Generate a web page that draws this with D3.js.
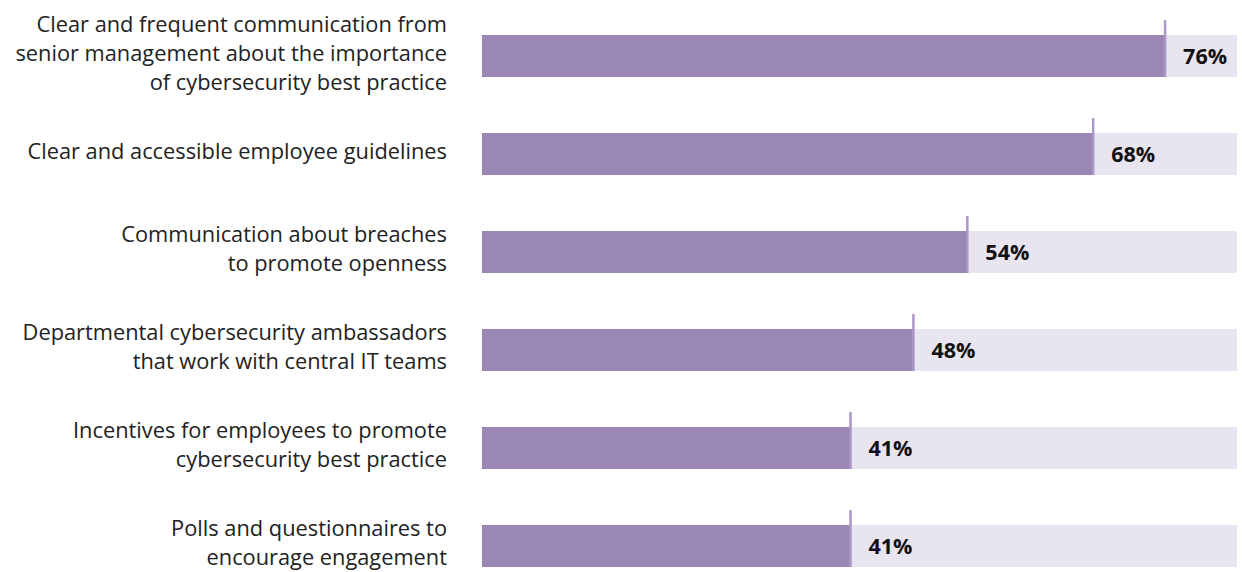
<!DOCTYPE html>
<html>
<head>
<meta charset="utf-8">
<script src="https://cdn.jsdelivr.net/npm/d3@7"></script>
<style>
  html, body { margin: 0; padding: 0; background: #fff; }
  svg { display: block; }
</style>
</head>
<body>
<svg id="chart" width="1242" height="572"></svg>
<script>
// Survey responses: measures that support cybersecurity culture
const categories = [
  ["Clear and frequent communication from", "senior management about the importance", "of cybersecurity best practice"],
  ["Clear and accessible employee guidelines"],
  ["Communication about breaches", "to promote openness"],
  ["Departmental cybersecurity ambassadors", "that work with central IT teams"],
  ["Incentives for employees to promote", "cybersecurity best practice"],
  ["Polls and questionnaires to", "encourage engagement"]
];
const values = [76, 68, 54, 48, 41, 41];
const valueLabels = ["76%", "68%", "54%", "48%", "41%", "41%"];
const trackMax = [84];

const svg = d3.select("#chart");
const ids = categories.map((c, i) => i);

const x = d3.scaleLinear().domain([0, trackMax[0]]).range([482, 1237]);
const y = d3.scaleBand().domain(ids).range([35, 567]).paddingInner(0.571).paddingOuter(0);

const barColor = "#9b87b4";
const trackColor = "#e8e4f0";
const markerColor = "#ab98c6";

const rows = svg.selectAll("g.row").data(ids).enter().append("g").attr("class", "row");

// background track
rows.append("rect")
  .attr("x", x(0))
  .attr("y", i => y(i))
  .attr("width", x(trackMax[0]) - x(0))
  .attr("height", y.bandwidth())
  .attr("fill", trackColor);

// value bar
rows.append("rect")
  .attr("x", x(0))
  .attr("y", i => y(i))
  .attr("width", i => x(values[i]) - x(0))
  .attr("height", y.bandwidth())
  .attr("fill", barColor);

// marker line at bar end
rows.append("line")
  .attr("x1", i => x(values[i]))
  .attr("x2", i => x(values[i]))
  .attr("y1", i => y(i) - 15)
  .attr("y2", i => y(i) + y.bandwidth())
  .attr("stroke", markerColor)
  .attr("stroke-width", 2.5);

// value labels
rows.append("text")
  .attr("x", i => x(values[i]) + 18)
  .attr("y", i => y(i) + y.bandwidth() / 2)
  .attr("dy", "0.36em")
  .attr("font-family", "'Open Sans', sans-serif")
  .attr("font-weight", "bold")
  .attr("font-size", 21.5)
  .attr("fill", "#111")
  .text(i => valueLabels[i]);

// category labels
const lineH = 29;
rows.append("text")
  .attr("text-anchor", "end")
  .attr("font-family", "'Open Sans', sans-serif")
  .attr("font-size", 21.8)
  .attr("fill", "#222")
  .each(function(i) {
    const lines = categories[i];
    const cy = y(i) + y.bandwidth() / 2 - 3;
    const startY = cy - (lines.length - 1) * lineH / 2;
    d3.select(this).selectAll("tspan").data(lines).enter().append("tspan")
      .attr("x", 447)
      .attr("y", (d, k) => startY + k * lineH)
      .attr("dy", "0.36em")
      .text(d => d);
  });
</script>
</body>
</html>
